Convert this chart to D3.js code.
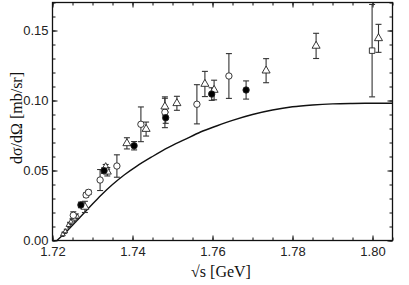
<!DOCTYPE html>
<html><head><meta charset="utf-8">
<script src="https://cdn.jsdelivr.net/npm/d3@7"></script>
<style>body{margin:0;background:#fff}svg{display:block}</style>
</head><body>
<svg id="c" width="409" height="285"></svg>
<script>
// [sqrt(s), dσ/dΩ, error]
const openCircles = [[1.7252,0.018,0.0025],[1.7284,0.0325,0.0015],[1.7290,0.0344,0.0015],[1.7319,0.0432,0.0075],[1.7361,0.0532,0.008],[1.7421,0.083,0.0124],[1.7481,0.0916,0.011],[1.7561,0.0973,0.014],[1.7641,0.1175,0.016]];
const filledCircles = [[1.7271,0.0254,0.002],[1.7329,0.0499,0.002],[1.7404,0.0677,0.003],[1.7483,0.0877,0.004],[1.7598,0.1046,0.0045],[1.7684,0.1075,0.0065]];
const openTriangles = [[1.7281,0.024,0.004],[1.7333,0.0523,0.002],[1.7337,0.0491,0.003],[1.7386,0.0694,0.004],[1.7434,0.0796,0.005],[1.7481,0.0956,0.006],[1.7511,0.098,0.005],[1.7581,0.1118,0.009],[1.7604,0.1075,0.007],[1.7734,0.1213,0.0086],[1.7859,0.139,0.009],[1.8015,0.1444,0.010]];
const openSquares = [[1.7999,0.1356,0.033]];
const smallPoints = [[1.7226,0.0044,0.0015],[1.7232,0.0065,0.0015],[1.7240,0.011,0.002],[1.7246,0.0134,0.002],[1.7256,0.0155,0.002],[1.7262,0.0170,0.002]];
const curveX = [1.7211,1.7230,1.7260,1.7290,1.7320,1.7350,1.7380,1.7410,1.7450,1.7490,1.7530,1.7570,1.7610,1.7650,1.7700,1.7750,1.7800,1.7850,1.7900,1.7950,1.8000,1.8050];
const curveY = [0,0.005,0.014,0.023,0.032,0.040,0.047,0.053,0.060,0.0665,0.072,0.0775,0.0818,0.0858,0.0900,0.0932,0.0955,0.0968,0.0976,0.0979,0.0980,0.0980];
const xTicks = [1.72,1.74,1.76,1.78,1.80];
const yTicks = [0,0.05,0.10,0.15];

const L=52.5, R=392.5, T=2.5, B=240.5;
const svg = d3.select("#c");
const x = d3.scaleLinear().domain([1.72,1.805]).range([L,R]);
const y = d3.scaleLinear().domain([0,0.17]).range([B,T]);

const ink="#111", bar="#333";
function axes(){
  const xMinor = d3.range(1.72,1.8051,0.005);
  const yMinor = d3.range(0,0.1701,0.01);
  svg.append("g").attr("transform",`translate(0,${B})`)
    .call(d3.axisBottom(x).tickValues(xTicks).tickFormat(d3.format(".2f")).tickSizeInner(-5).tickSizeOuter(0).tickPadding(6));
  svg.append("g").attr("transform",`translate(${L},0)`)
    .call(d3.axisLeft(y).tickValues(yTicks).tickFormat(d3.format(".2f")).tickSizeInner(-5).tickSizeOuter(0).tickPadding(4));
  svg.append("g").attr("transform",`translate(0,${T})`)
    .call(d3.axisTop(x).tickValues(xTicks).tickFormat("").tickSizeInner(-5).tickSizeOuter(0));
  svg.append("g").attr("transform",`translate(${R},0)`)
    .call(d3.axisRight(y).tickValues(yTicks).tickFormat("").tickSizeInner(-5).tickSizeOuter(0));
  svg.append("g").attr("transform",`translate(0,${B})`).call(d3.axisBottom(x).tickValues(xMinor).tickFormat("").tickSizeInner(-3).tickSizeOuter(0));
  svg.append("g").attr("transform",`translate(0,${T})`).call(d3.axisTop(x).tickValues(xMinor).tickFormat("").tickSizeInner(-3).tickSizeOuter(0));
  svg.append("g").attr("transform",`translate(${L},0)`).call(d3.axisLeft(y).tickValues(yMinor).tickFormat("").tickSizeInner(-3).tickSizeOuter(0));
  svg.append("g").attr("transform",`translate(${R},0)`).call(d3.axisRight(y).tickValues(yMinor).tickFormat("").tickSizeInner(-3).tickSizeOuter(0));
  svg.selectAll(".domain").remove();
  svg.selectAll(".tick line").attr("stroke",ink).attr("stroke-width",1);
  svg.selectAll(".tick text").attr("font-family","Liberation Sans, Arial, sans-serif").attr("font-size",13).attr("fill","#222");
  svg.append("rect").attr("x",L).attr("y",T).attr("width",R-L).attr("height",B-T)
    .attr("fill","none").attr("stroke",ink).attr("stroke-width",1.3);
}
axes();

// theory curve
svg.append("path")
  .datum(curveX.map((d,i)=>[d,curveY[i]]))
  .attr("fill","none").attr("stroke",ink).attr("stroke-width",1.4)
  .attr("d", d3.line().x(d=>x(d[0])).y(d=>y(d[1])).curve(d3.curveMonotoneX));

const plot = svg.append("g");
function errBars(data, cap){
  const g = plot.append("g").attr("stroke",bar).attr("stroke-width",1.1);
  data.forEach(d=>{
    const cx=x(d[0]), y1=y(d[1]+d[2]), y2=y(d[1]-d[2]);
    g.append("line").attr("x1",cx).attr("x2",cx).attr("y1",y1).attr("y2",y2);
    g.append("line").attr("x1",cx-cap).attr("x2",cx+cap).attr("y1",y1).attr("y2",y1);
    g.append("line").attr("x1",cx-cap).attr("x2",cx+cap).attr("y1",y2).attr("y2",y2);
  });
}
function markers(data, type, size, fill){
  plot.append("g").selectAll("path").data(data).join("path")
    .attr("transform",d=>`translate(${x(d[0])},${y(d[1])})`)
    .attr("d", d3.symbol().type(type).size(size))
    .attr("fill",fill).attr("stroke","#222").attr("stroke-width",0.9);
}
errBars(smallPoints,1.5);
errBars(openCircles,3);
errBars(filledCircles,3);
errBars(openTriangles,3);
errBars(openSquares,3);
markers(smallPoints,d3.symbolTriangle,10,"#fff");
markers(openCircles,d3.symbolCircle,32,"#fff");
markers(openTriangles,d3.symbolTriangle,28,"#fff");
markers(openSquares,d3.symbolSquare,30,"#fff");
markers(filledCircles,d3.symbolCircle,32,"#000");

svg.append("text").attr("x",221).attr("y",277).attr("text-anchor","middle")
  .attr("font-family","Liberation Serif, Times New Roman, serif").attr("font-size",16).attr("fill","#111")
  .text("√s [GeV]");
svg.append("text").attr("transform","translate(22,118) rotate(-90)").attr("text-anchor","middle")
  .attr("font-family","Liberation Serif, Times New Roman, serif").attr("font-size",16).attr("fill","#111")
  .text("dσ/dΩ [mb/sr]");
</script>
</body></html>
